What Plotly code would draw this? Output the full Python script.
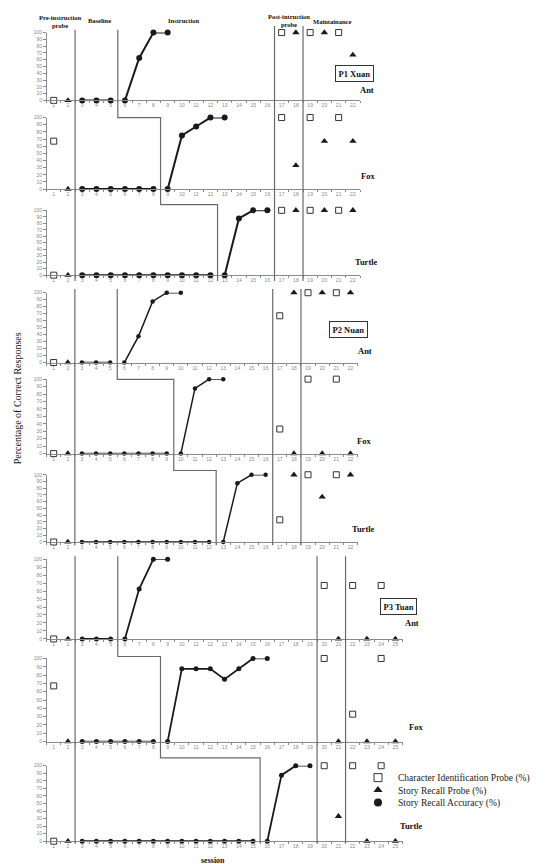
import plotly.graph_objects as go

# ---------------- DATA ----------------
CHAR_SESSIONS_P12 = [1, 17, 19, 21]
RECALL_SESSIONS_P12 = [2, 18, 20, 22]
CHAR_SESSIONS_P3 = [1, 20, 22, 24]
RECALL_SESSIONS_P3 = [2, 21, 23, 25]
TICKS_P12 = list(range(1, 23))
TICKS_P3 = list(range(1, 26))
Y_TICKS = [0, 10, 20, 30, 40, 50, 60, 70, 80, 90, 100]

# Character Identification Probe (%)
P1_ANT_CHAR = [0, 100, 100, 100]
P1_FOX_CHAR = [67, 100, 100, 100]
P1_TURTLE_CHAR = [0, 100, 100, 100]
P2_ANT_CHAR = [0, 67, 100, 100]
P2_FOX_CHAR = [0, 33, 100, 100]
P2_TURTLE_CHAR = [0, 33, 100, 100]
P3_ANT_CHAR = [0, 67, 67, 67]
P3_FOX_CHAR = [67, 100, 33, 100]
P3_TURTLE_CHAR = [0, 100, 100, 100]

# Story Recall Probe (%)
P1_ANT_RECALL = [0, 100, 100, 67]
P1_FOX_RECALL = [0, 33, 67, 67]
P1_TURTLE_RECALL = [0, 100, 100, 100]
P2_ANT_RECALL = [0, 100, 100, 100]
P2_FOX_RECALL = [0, 0, 0, 0]
P2_TURTLE_RECALL = [0, 100, 67, 100]
P3_ANT_RECALL = [0, 0, 0, 0]
P3_FOX_RECALL = [0, 0, 0, 0]
P3_TURTLE_RECALL = [0, 33, 0, 0]

# Story Recall Accuracy (%) - baseline starts at session 3, instruction follows
P1_ANT_BASE = [0, 0, 0]
P1_ANT_INSTR = [0, 62.5, 100, 100]
P1_FOX_BASE = [0, 0, 0, 0, 0, 0]
P1_FOX_INSTR = [0, 75, 87.5, 100, 100]
P1_TURTLE_BASE = [0, 0, 0, 0, 0, 0, 0, 0, 0, 0]
P1_TURTLE_INSTR = [0, 87.5, 100, 100]
P2_ANT_BASE = [0, 0, 0]
P2_ANT_INSTR = [0, 37.5, 87.5, 100, 100]
P2_FOX_BASE = [0, 0, 0, 0, 0, 0, 0]
P2_FOX_INSTR = [0, 87.5, 100, 100]
P2_TURTLE_BASE = [0, 0, 0, 0, 0, 0, 0, 0, 0, 0]
P2_TURTLE_INSTR = [0, 87.5, 100, 100]
P3_ANT_BASE = [0, 0, 0]
P3_ANT_INSTR = [0, 62.5, 100, 100]
P3_FOX_BASE = [0, 0, 0, 0, 0, 0]
P3_FOX_INSTR = [0, 87.5, 87.5, 87.5, 75, 87.5, 100, 100]
P3_TURTLE_BASE = [0, 0, 0, 0, 0, 0, 0, 0, 0, 0, 0, 0, 0]
P3_TURTLE_INSTR = [0, 87.5, 100, 100]

# phase boundaries (session units)
P1_PHASES = [2.5, 16.5, 18.5]
P2_PHASES = [2.5, 16.5, 18.5]
P3_PHASES = [2.5, 19.5, 21.5]
P1_STAIRS = [5.5, 8.5, 12.5]
P2_STAIRS = [5.5, 9.5, 12.5]
P3_STAIRS = [5.5, 8.5, 15.5]

STORIES = ["Ant", "Fox", "Turtle"]
PARTICIPANTS = ["P1 Xuan", "P2 Nuan", "P3 Tuan"]

# ---------------- LAYOUT HELPERS ----------------
W, H = 550, 864
def px(x):
    return x / W
def py(y):
    return 1 - y / H

PANEL_Y = [(21.7, 90), (107.3, 179.3), (200.7, 266),
           (283.7, 354), (370.7, 445.7), (467, 534.7),
           (552, 632.3), (652, 735.7), (760, 836)]
X_LEFT = 38.6
X_RIGHT = [352, 349.5, 394.5]
CIRCLE_SIZE = [6, 4.5, 5]
LINE_W = [2, 1.5, 1.8]

panels = [
    (0, P1_ANT_CHAR, P1_ANT_RECALL, P1_ANT_BASE, P1_ANT_INSTR),
    (0, P1_FOX_CHAR, P1_FOX_RECALL, P1_FOX_BASE, P1_FOX_INSTR),
    (0, P1_TURTLE_CHAR, P1_TURTLE_RECALL, P1_TURTLE_BASE, P1_TURTLE_INSTR),
    (1, P2_ANT_CHAR, P2_ANT_RECALL, P2_ANT_BASE, P2_ANT_INSTR),
    (1, P2_FOX_CHAR, P2_FOX_RECALL, P2_FOX_BASE, P2_FOX_INSTR),
    (1, P2_TURTLE_CHAR, P2_TURTLE_RECALL, P2_TURTLE_BASE, P2_TURTLE_INSTR),
    (2, P3_ANT_CHAR, P3_ANT_RECALL, P3_ANT_BASE, P3_ANT_INSTR),
    (2, P3_FOX_CHAR, P3_FOX_RECALL, P3_FOX_BASE, P3_FOX_INSTR),
    (2, P3_TURTLE_CHAR, P3_TURTLE_RECALL, P3_TURTLE_BASE, P3_TURTLE_INSTR),
]

fig = go.Figure()
AX_COLOR = "#8a8a8a"
TICK_FONT = dict(family="Liberation Sans, Arial", size=5, color="#8a8a8a")
MARK = "#1a1a1a"

layout_axes = {}
for i, (p, ch, rc, base, instr) in enumerate(panels):
    n = i + 1
    xa = "x" if n == 1 else f"x{n}"
    ya = "y" if n == 1 else f"y{n}"
    char_s = CHAR_SESSIONS_P3 if p == 2 else CHAR_SESSIONS_P12
    rec_s = RECALL_SESSIONS_P3 if p == 2 else RECALL_SESSIONS_P12
    base_x = list(range(3, 3 + len(base)))
    instr_x = list(range(3 + len(base), 3 + len(base) + len(instr)))
    cs = CIRCLE_SIZE[p]
    lw = LINE_W[p]
    fig.add_trace(go.Scatter(x=base_x, y=base, mode="lines+markers", xaxis=xa, yaxis=ya,
                             line=dict(color=MARK, width=lw), marker=dict(color=MARK, size=cs),
                             cliponaxis=False, showlegend=False))
    fig.add_trace(go.Scatter(x=instr_x, y=instr, mode="lines+markers", xaxis=xa, yaxis=ya,
                             line=dict(color=MARK, width=lw), marker=dict(color=MARK, size=cs),
                             cliponaxis=False, showlegend=False))
    fig.add_trace(go.Scatter(x=char_s, y=ch, mode="markers", xaxis=xa, yaxis=ya,
                             marker=dict(symbol="square-open", color="#333333", size=6,
                                         line=dict(width=1, color="#333333")),
                             cliponaxis=False, showlegend=False))
    fig.add_trace(go.Scatter(x=rec_s, y=rc, mode="markers", xaxis=xa, yaxis=ya,
                             marker=dict(symbol="triangle-up", color=MARK, size=6.5),
                             cliponaxis=False, showlegend=False))
    top, bot = PANEL_Y[i]
    ticks = TICKS_P3 if p == 2 else TICKS_P12
    layout_axes["xaxis" if n == 1 else f"xaxis{n}"] = dict(
        domain=[px(X_LEFT), px(X_RIGHT[p])], anchor=ya,
        range=[0.5, ticks[-1] + 0.5], tickmode="array", tickvals=ticks,
        ticktext=[str(t) for t in ticks], ticks="", tickfont=TICK_FONT,
        showline=True, linecolor=AX_COLOR, linewidth=1, showgrid=False, zeroline=False,
        minor=dict(tickmode="array", tickvals=[t - 0.5 for t in ticks] + [ticks[-1] + 0.5],
                   ticks="outside", ticklen=2, tickcolor=AX_COLOR, tickwidth=1),
        fixedrange=True,
    )
    layout_axes["yaxis" if n == 1 else f"yaxis{n}"] = dict(
        domain=[py(bot), py(top)], anchor=xa, range=[0, 100],
        tickmode="array", tickvals=Y_TICKS, ticks="outside", ticklen=2.5,
        tickcolor=AX_COLOR, tickfont=TICK_FONT, showline=True, linecolor=AX_COLOR,
        linewidth=1, showgrid=False, zeroline=False, fixedrange=True,
    )

# legend-only traces
fig.add_trace(go.Scatter(x=[None], y=[None], mode="markers", name="Character Identification Probe (%)",
                         marker=dict(symbol="square-open", color="#333333", size=8, line=dict(width=1)),
                         legend="legend"))
fig.add_trace(go.Scatter(x=[None], y=[None], mode="markers", name="Story Recall Probe (%)",
                         marker=dict(symbol="triangle-up", color=MARK, size=8), legend="legend2"))
fig.add_trace(go.Scatter(x=[None], y=[None], mode="markers", name="Story Recall Accuracy (%)",
                         marker=dict(symbol="circle", color=MARK, size=8), legend="legend3"))

LEG_FONT = dict(family="Liberation Serif, Times New Roman, serif", size=9.5, color="#222222")
def leg(ypix):
    return dict(x=px(350), y=py(ypix), xanchor="left", yanchor="middle",
                bgcolor="rgba(0,0,0,0)", font=LEG_FONT, borderwidth=0)

# shapes: phase lines and multiple-baseline staircase
shapes = []
LINE_STYLE = dict(color="#6a6a6a", width=1.2)
groups = [
    ("x", P1_PHASES, P1_STAIRS, 19, 272, 15, [107.3, 195]),
    ("x4", P2_PHASES, P2_STAIRS, 280, 538, 280, [371, 462.7]),
    ("x7", P3_PHASES, P3_STAIRS, 549, 838, 549, [650, 752]),
]
for xr, phases, stairs, ytop, ybot, ypost, steps in groups:
    shapes.append(dict(type="line", xref=xr, yref="paper", x0=phases[0], x1=phases[0],
                       y0=py(ytop), y1=py(ybot), line=LINE_STYLE))
    for ph in phases[1:]:
        shapes.append(dict(type="line", xref=xr, yref="paper", x0=ph, x1=ph,
                           y0=py(ypost), y1=py(ybot), line=LINE_STYLE))
    path = (f"M {stairs[0]},{py(ytop)} L {stairs[0]},{py(steps[0])} "
            f"L {stairs[1]},{py(steps[0])} L {stairs[1]},{py(steps[1])} "
            f"L {stairs[2]},{py(steps[1])} L {stairs[2]},{py(ybot)}")
    shapes.append(dict(type="path", xref=xr, yref="paper", path=path, line=LINE_STYLE))

# annotations
SERIF_B = "Liberation Serif, Times New Roman, serif"
ann = []
def text(t, xp, yp, size, bold=True, **kw):
    ann.append(dict(text=f"<b>{t}</b>" if bold else t, x=px(xp), y=py(yp), xref="paper", yref="paper",
                    showarrow=False, xanchor="center", yanchor="middle",
                    font=dict(family=SERIF_B, size=size, color="#111111"), **kw))

text("Pre-instruction<br>probe", 52, 10.5, 6.5)
text("Baseline", 91, 9.5, 6.5)
text("Instruction", 175, 9.5, 6.5)
text("Post-intruction<br>probe", 281, 9.5, 6.5)
text("Maintainance", 324, 10.5, 6.5)

label_pos = [
    [(359, 80), (360, 166), (358.7, 253)],
    [(356.7, 342), (356, 432.7), (355.7, 522)],
    [(404, 616.7), (407.7, 721), (403, 821)],
]
box_pos = [(346, 63), (340.7, 320.5), (390, 600)]
for p in range(3):
    bx, by = box_pos[p]
    text(PARTICIPANTS[p], bx, by, 8.5, bordercolor="#333333", borderwidth=1, borderpad=2.5)
    for s in range(3):
        lx, ly = label_pos[p][s]
        text(STORIES[s], lx, ly, 8.5)

text("session", 205, 855, 8)
text("Percentage of Correct Responses", 9, 390, 10, bold=False, textangle=-90)

fig.update_layout(
    width=W, height=H, margin=dict(l=0, r=0, t=0, b=0),
    paper_bgcolor="white", plot_bgcolor="white",
    shapes=shapes, annotations=ann,
    legend=leg(772), legend2=leg(784.5), legend3=leg(797),
    **layout_axes,
)
fig.write_html("out.html")
